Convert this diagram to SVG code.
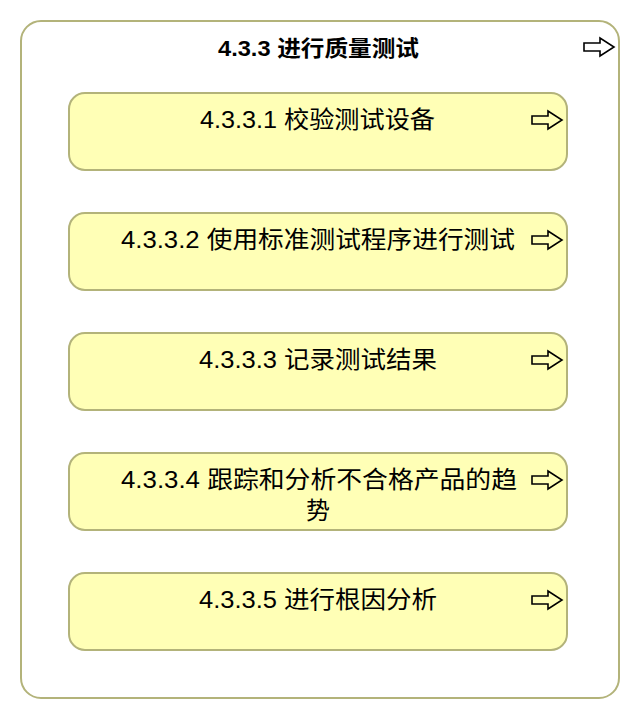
<svg xmlns="http://www.w3.org/2000/svg" width="640" height="720" viewBox="0 0 640 720">
<defs>
<style>
.outer{fill:#ffffff;stroke:#b3b37a;stroke-width:2}
.box{fill:#ffffb6;stroke:#b3b37a;stroke-width:2}
.t{font-family:"Liberation Sans","Noto Sans CJK SC",sans-serif;font-size:24px;fill:#000}
.tt{font-family:"Liberation Sans","Noto Sans CJK SC",sans-serif;font-size:22px;font-weight:bold;fill:#000}
.arr{fill:none;stroke:#000;stroke-width:1.6;stroke-linejoin:miter}
</style>
<path id="arrow" d="M0,4 H16 V-1 L30,8 L16,17 V12 H0 Z"/>
</defs>
<g id="group-4.3.3">
<rect class="outer" x="21" y="21" width="598" height="677" rx="20" ry="20"/>
<text class="tt" x="318.5" y="56" text-anchor="middle" textLength="201" lengthAdjust="spacingAndGlyphs">4.3.3 进行质量测试</text>
<use href="#arrow" class="arr" x="584" y="39"/>
</g>
<g id="node-4.3.3.1">
<rect class="box" x="69" y="93" width="498" height="77" rx="16" ry="16"/>
<text class="t" x="317.5" y="128" text-anchor="middle" textLength="235" lengthAdjust="spacingAndGlyphs">4.3.3.1 校验测试设备</text>
<use href="#arrow" class="arr" x="532" y="112"/>
</g>
<g id="node-4.3.3.2">
<rect class="box" x="69" y="213" width="498" height="77" rx="16" ry="16"/>
<text class="t" x="318" y="248" text-anchor="middle" textLength="394" lengthAdjust="spacingAndGlyphs">4.3.3.2 使用标准测试程序进行测试</text>
<use href="#arrow" class="arr" x="532" y="232"/>
</g>
<g id="node-4.3.3.3">
<rect class="box" x="69" y="333" width="498" height="77" rx="16" ry="16"/>
<text class="t" x="318" y="368" text-anchor="middle" textLength="238" lengthAdjust="spacingAndGlyphs">4.3.3.3 记录测试结果</text>
<use href="#arrow" class="arr" x="532" y="352"/>
</g>
<g id="node-4.3.3.4">
<rect class="box" x="69" y="453" width="498" height="77" rx="16" ry="16"/>
<text class="t" x="319" y="488" text-anchor="middle" textLength="396" lengthAdjust="spacingAndGlyphs">4.3.3.4 跟踪和分析不合格产品的趋</text>
<text class="t" x="318" y="519" text-anchor="middle">势</text>
<use href="#arrow" class="arr" x="532" y="472"/>
</g>
<g id="node-4.3.3.5">
<rect class="box" x="69" y="573" width="498" height="77" rx="16" ry="16"/>
<text class="t" x="318" y="608" text-anchor="middle" textLength="238" lengthAdjust="spacingAndGlyphs">4.3.3.5 进行根因分析</text>
<use href="#arrow" class="arr" x="532" y="592"/>
</g>
<g id="connectors"/>
</svg>
